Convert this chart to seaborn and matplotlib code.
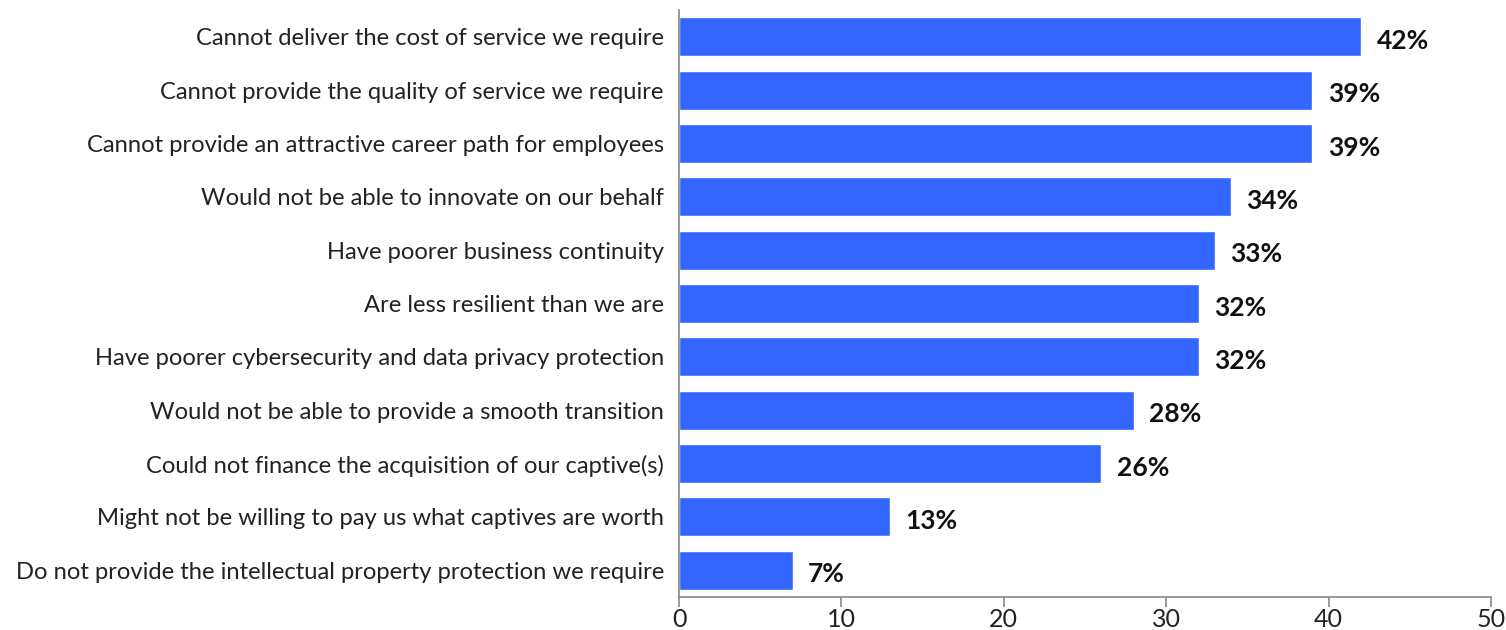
import matplotlib
matplotlib.use("Agg")
import matplotlib.pyplot as plt
import seaborn as sns
import pandas as pd

categories = [
    "Cannot deliver the cost of service we require",
    "Cannot provide the quality of service we require",
    "Cannot provide an attractive career path for employees",
    "Would not be able to innovate on our behalf",
    "Have poorer business continuity",
    "Are less resilient than we are",
    "Have poorer cybersecurity and data privacy protection",
    "Would not be able to provide a smooth transition",
    "Could not finance the acquisition of our captive(s)",
    "Might not be willing to pay us what captives are worth",
    "Do not provide the intellectual property protection we require",
]
values = [42, 39, 39, 34, 33, 32, 32, 28, 26, 13, 7]
x_ticks = [0, 10, 20, 30, 40, 50]

sns.set_theme(style="white")
plt.rcParams["font.family"] = ["Lato", "DejaVu Sans"]

df = pd.DataFrame({"reason": categories, "share": values})

fig = plt.figure(figsize=(15.06, 6.30), dpi=100)
ax = fig.add_axes([0.4509, 0.0524, 0.5392, 0.9316])

sns.barplot(data=df, x="share", y="reason", color="#3366FF", saturation=1,
            width=0.73, ax=ax, orient="h")

for i, v in enumerate(values):
    ax.annotate(f"{v}%", xy=(v, i), xytext=(11, -3), textcoords="offset points",
                ha="left", va="center", fontsize=19, fontweight="bold",
                color="#111111")

ax.set_xlim(0, 50)
ax.set_xticks(x_ticks)
ax.set_xticklabels([str(t) for t in x_ticks])
ax.set_xlabel("")
ax.set_ylabel("")

for side in ["top", "right"]:
    ax.spines[side].set_visible(False)
for side in ["left", "bottom"]:
    ax.spines[side].set_color("#888888")
    ax.spines[side].set_linewidth(1.2)

ax.tick_params(axis="x", bottom=True, length=7, width=1.2, color="#888888",
               labelsize=18, labelcolor="#222222", pad=1)
ax.tick_params(axis="y", left=False, labelsize=17.1, labelcolor="#222222", pad=5)

fig.savefig("out.png", dpi=100)
